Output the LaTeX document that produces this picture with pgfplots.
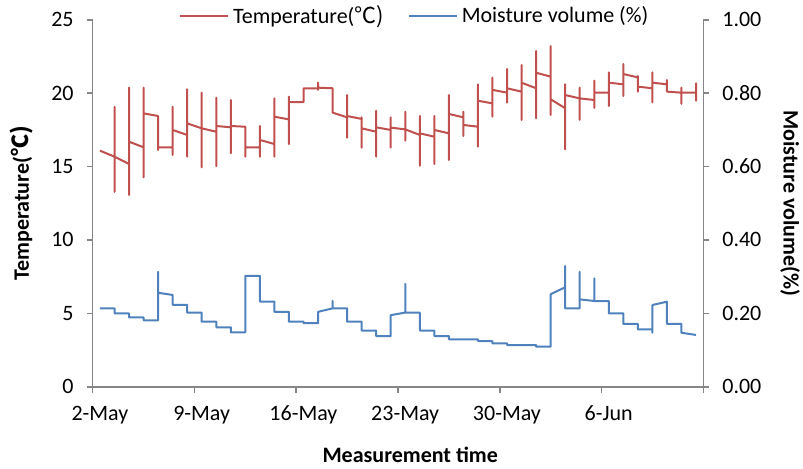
\documentclass[border=0pt]{standalone}
\usepackage{pgfplots}
\pgfplotsset{compat=1.18}
\usepackage{fontspec}
\setmainfont{Carlito}
\newfontfamily\cjk{Noto Sans CJK SC}
\definecolor{tred}{RGB}{192,80,77}
\definecolor{mblue}{RGB}{79,129,189}
\definecolor{axgray}{RGB}{134,134,134}
\begin{document}
\begin{tikzpicture}
\pgfplotsset{
  common/.style={
    scale only axis, width=305.3pt, height=183.5pt,
    xmin=0, xmax=42,
    font=\fontsize{11}{13}\selectfont,
    /pgf/number format/assume math mode=true,
    axis line style={axgray, line width=0.8pt},
    tick style={axgray, line width=0.8pt},
    tick align=outside, major tick length=3pt,
    clip=false,
  }
}
\begin{axis}[common,
  ymin=0, ymax=25,
  axis y line*=left, axis x line*=bottom,
  ytick={0,5,...,25},
  xtick={0,7,...,42},
  xticklabels={2-May,9-May,16-May,23-May,30-May,6-Jun,},
  xticklabel style={xshift=3.6pt, yshift=-3pt},
  yticklabel style={xshift=-3pt},
  ylabel={\bfseries Temperature(\cjk{℃})},
  ylabel style={at={(axis description cs:-0.116,0.5)}, anchor=center},
  xlabel={\bfseries Measurement time},
  xlabel style={at={(axis description cs:0.52,0)}, anchor=center, yshift=-34.2pt},
  legend columns=2,
  legend style={draw=none, fill=none, at={(axis description cs:0.529,1)}, anchor=center, yshift=2pt,
    /tikz/every even column/.append style={column sep=10pt}, font=\fontsize{11}{13}\selectfont},
  legend image code/.code={\draw[#1] (0pt,0pt) -- (24pt,0pt);},
]
\addplot[tred, line width=1pt, line join=round] coordinates {
(0.5,16.08)
(1.5,15.67)(1.5,19.07)(1.5,13.28)(1.5,15.67)
(2.5,15.17)(2.5,20.37)(2.5,13.06)(2.5,16.69)
(3.5,16.31)(3.5,20.37)(3.5,14.26)(3.5,18.62)
(4.5,18.44)(4.5,16.12)(4.5,16.31)
(5.5,16.31)(5.5,19.07)(5.5,15.78)(5.5,17.49)
(6.5,17.15)(6.5,20.26)(6.5,15.67)(6.5,17.94)
(7.5,17.6)(7.5,20.03)(7.5,14.94)(7.5,17.6)
(8.5,17.37)(8.5,19.69)(8.5,15.03)(8.5,17.76)
(9.5,17.67)(9.5,19.53)(9.5,15.9)(9.5,17.76)
(10.5,17.71)(10.5,15.67)(10.5,16.31)
(11.5,16.31)(11.5,17.76)(11.5,15.67)(11.5,16.81)
(12.5,16.53)(12.5,19.64)(12.5,15.67)(12.5,18.39)
(13.5,18.21)(13.5,19.76)(13.5,16.53)(13.5,19.39)
(14.5,19.39)(14.5,20.33)
(15.5,20.33)(15.5,20.71)(15.5,20.22)(15.5,20.37)
(16.5,20.33)(16.5,18.67)
(17.5,18.35)(17.5,19.87)(17.5,16.96)(17.5,18.44)
(18.5,18.24)(18.5,18.35)(18.5,16.28)(18.5,17.6)
(19.5,17.37)(19.5,18.80)(19.5,15.67)(19.5,17.67)
(20.5,17.49)(20.5,18.35)(20.5,16.28)(20.5,17.65)
(21.5,17.53)(21.5,18.73)(21.5,16.76)(21.5,17.53)
(22.5,17.15)(22.5,18.44)(22.5,15.05)(22.5,17.26)
(23.5,17.03)(23.5,18.44)(23.5,15.17)(23.5,17.49)
(24.5,17.26)(24.5,19.87)(24.5,15.44)(24.5,18.58)
(25.5,18.35)(25.5,18.73)(25.5,17.08)(25.5,17.83)
(26.5,17.71)(26.5,20.6)(26.5,16.35)(26.5,19.48)
(27.5,19.30)(27.5,21.05)(27.5,18.39)(27.5,20.22)
(28.5,20.03)(28.5,21.64)(28.5,19.35)(28.5,20.33)
(29.5,20.10)(29.5,21.91)(29.5,18.17)(29.5,20.71)
(30.5,20.33)(30.5,22.87)(30.5,18.28)(30.5,21.39)
(31.5,21.12)(31.5,23.2)(31.5,18.51)(31.5,19.58)
(32.5,18.97)(32.5,20.6)(32.5,16.17)(32.5,19.87)
(33.5,19.64)(33.5,20.37)(33.5,18.17)(33.5,19.64)
(34.5,19.53)(34.5,20.85)(34.5,19.0)(34.5,20.03)
(35.5,20.03)(35.5,21.41)(35.5,19.12)(35.5,20.71)
(36.5,20.6)(36.5,21.98)(36.5,19.8)(36.5,21.3)
(37.5,21.07)(37.5,21.16)(37.5,20.1)(37.5,20.44)
(38.5,20.33)(38.5,21.41)(38.5,19.37)(38.5,20.71)
(39.5,20.6)(39.5,20.89)(39.5,20.1)(39.5,20.1)
(40.5,20.03)(40.5,20.37)(40.5,19.26)(40.5,20.03)
(41.5,20.03)(41.5,20.67)(41.5,19.48)(41.5,20.03)
};
\addlegendentry{Temperature(\cjk{℃})}
\addlegendimage{mblue, line width=1pt}
\addlegendentry{Moisture volume (\%)}
\end{axis}
\begin{axis}[common,
  ymin=0, ymax=1,
  axis y line*=right, axis x line=none,
  ytick={0,0.2,...,1},
  yticklabel style={/pgf/number format/.cd, fixed, fixed zerofill, precision=2, /tikz/.cd, xshift=3pt},
  ylabel={\bfseries Moisture volume(\%)},
  ylabel style={at={(axis description cs:1.142,0.5)}, anchor=center, rotate=180},
]
\addplot[mblue, line width=1pt, line join=round] coordinates {
(0.5,0.2135)
(1.5,0.2135)(1.5,0.2)
(2.5,0.2)(2.5,0.189)
(3.5,0.189)(3.5,0.181)
(4.5,0.181)(4.5,0.313)(4.5,0.256)
(5.5,0.25)(5.5,0.223)
(6.5,0.223)(6.5,0.202)
(7.5,0.202)(7.5,0.177)
(8.5,0.177)(8.5,0.162)
(9.5,0.162)(9.5,0.148)
(10.5,0.148)(10.5,0.302)
(11.5,0.302)(11.5,0.232)
(12.5,0.232)(12.5,0.204)
(13.5,0.204)(13.5,0.177)
(14.5,0.177)(14.5,0.173)
(15.5,0.173)(15.5,0.204)
(16.5,0.2135)(16.5,0.234)(16.5,0.2135)
(17.5,0.2135)(17.5,0.177)
(18.5,0.177)(18.5,0.153)
(19.5,0.153)(19.5,0.138)
(20.5,0.138)(20.5,0.195)
(21.5,0.202)(21.5,0.28)(21.5,0.202)
(22.5,0.202)(22.5,0.153)
(23.5,0.153)(23.5,0.138)
(24.5,0.138)(24.5,0.129)
(25.5,0.129)
(26.5,0.129)(26.5,0.1245)
(27.5,0.1245)(27.5,0.118)
(28.5,0.118)(28.5,0.1136)
(29.5,0.1136)
(30.5,0.1136)(30.5,0.109)
(31.5,0.109)(31.5,0.252)
(32.5,0.271)(32.5,0.329)(32.5,0.2135)
(33.5,0.2135)(33.5,0.313)(33.5,0.238)
(34.5,0.2335)(34.5,0.295)(34.5,0.2335)
(35.5,0.2335)(35.5,0.2)
(36.5,0.2)(36.5,0.171)
(37.5,0.171)(37.5,0.156)
(38.5,0.156)(38.5,0.147)(38.5,0.2226)
(39.5,0.2316)(39.5,0.171)
(40.5,0.171)(40.5,0.147)
(41.5,0.141)
};
\end{axis}
\pgfresetboundingbox
\path[use as bounding box] (-46.35pt,-40.65pt) rectangle (355.15pt,193.35pt);
\end{tikzpicture}
\end{document}
